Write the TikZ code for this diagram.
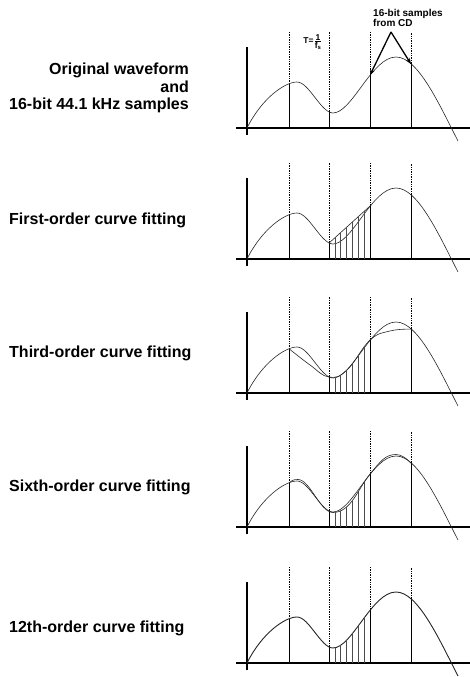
\documentclass[tikz,border=0pt]{standalone}
\usepackage{fontspec}
\setmainfont{Liberation Sans}
\usetikzlibrary{arrows.meta}

% the analogue waveform, in panel units (origin where the axes cross)
\newcommand\wavepath{(0,0) .. controls (15,30) and (38,46) .. (50,46)
  .. controls (62,46) and (74,15) .. (86,15)
  .. controls (105,15) and (125,71) .. (149,71)
  .. controls (171,71) and (192,24) .. (211,-13)}
% sixth-order fit, continuing from (42,44.3)
\newcommand\sixthtail{.. controls (45,46.5) and (46,47.5) .. (51,47.5)
  .. controls (63,47.5) and (73,14.5) .. (86,14.5)
  .. controls (104,14.5) and (111,38.5) .. (123,52.9)
  .. controls (133,65) and (138,72.5) .. (149,72.5)
  .. controls (155,72.5) and (160,68) .. (164,63.9)}
\newcommand\axes{\draw[axisline] (-11,0) -- (223,0); \draw[axisline] (0,-7) -- (0,81);}
\newcommand\samples{\foreach \u/\v in {42/44.3,82/15.9,123/52.9,164/63.9}{
  \draw[gridline] (\u,\v) -- (\u,96); \draw[sampleline] (\u,0) -- (\u,\v);}}
\newcommand\hatching{\foreach \k in {1,...,6} \draw[hatch] ({82+\k*41/7},0) -- ++(0,90);}

\begin{document}
\begin{tikzpicture}[x=1pt,y=1pt,
  axisline/.style={line width=1.7pt},
  wave/.style={line width=0.6pt,black!85},
  fitline/.style={line width=0.6pt,black!85},
  sampleline/.style={line width=1pt},
  gridline/.style={densely dotted,line width=0.7pt},
  hatch/.style={line width=0.45pt,black!70},
  caption/.style={font=\fontsize{16}{17.5}\selectfont\bfseries,inner sep=0pt},
  tag/.style={font=\fontsize{10}{10.5}\selectfont\bfseries,inner sep=0pt,align=left},
  pointer/.style={-{Stealth[length=6pt,width=4.5pt]},line width=1.3pt},
]
\useasboundingbox (0,0) rectangle (470,677);

% original waveform and CD samples
\begin{scope}[shift={(247,549)}]
  \axes \samples
  \draw[wave] \wavepath;
  \coordinate (cd3) at (123,52.9);
  \coordinate (cd4) at (164,63.9);
  \node[font=\fontsize{8.5}{9}\selectfont\bfseries,inner sep=0pt] (period) at (66,86)
    {T=$\frac{\hbox{1}}{\hbox{f\textsubscript{s}}}$};
\end{scope}
\node[caption,anchor=east,align=right] (orig) at (189,589)
  {Original waveform\\and\\16-bit 44.1 kHz samples};
\node[tag,anchor=west] (cdtag) at (373,659) {16-bit samples\\from CD};
\coordinate (apex) at (391,645);
\draw[pointer] (apex) -- (cd3);
\draw[pointer] (apex) -- (cd4);

% first order
\begin{scope}[shift={(247,418)}]
  \axes \samples
  \draw[wave] \wavepath;
  \coordinate (f2) at (82,15.9);
  \coordinate (f3) at (123,52.9);
  \draw[fitline] (f2) -- (f3);
  \begin{scope}
    \clip (f2) -- (f3) -- (123,0) -- (82,0) -- cycle;
    \hatching
  \end{scope}
\end{scope}
\node[caption,anchor=west] (first) at (9,457) {First-order curve fitting};

% third order
\begin{scope}[shift={(247,284)}]
  \axes \samples
  \draw[wave] \wavepath;
  \draw[fitline] plot[smooth,tension=0.7] coordinates
    {(42,44.3) (63,28) (82,15.9) (100,23) (123,52.9) (143,62) (164,63.9)};
  \begin{scope}
    \clip (82,0) rectangle (123,90);
    \clip (42,0) -- plot[smooth,tension=0.7] coordinates
      {(42,44.3) (63,28) (82,15.9) (100,23) (123,52.9) (143,62) (164,63.9)}
      -- (164,0) -- cycle;
    \hatching
  \end{scope}
\end{scope}
\node[caption,anchor=west] (third) at (9,324) {Third-order curve fitting};

% sixth order
\begin{scope}[shift={(247,150)}]
  \axes \samples
  \draw[wave] \wavepath;
  \draw[fitline] (42,44.3) \sixthtail;
  \begin{scope}
    \clip (82,0) rectangle (123,90);
    \clip (42,0) -- (42,44.3) \sixthtail -- (164,0) -- cycle;
    \hatching
  \end{scope}
\end{scope}
\node[caption,anchor=west] (sixth) at (9,190) {Sixth-order curve fitting};

% twelfth order
\begin{scope}[shift={(247,14)}]
  \axes \samples
  \draw[wave,line width=0.9pt] \wavepath;
  \begin{scope}
    \clip (82,0) rectangle (123,90);
    \clip \wavepath -- cycle;
    \hatching
  \end{scope}
\end{scope}
\node[caption,anchor=west] (twelfth) at (9,49) {12th-order curve fitting};
\end{tikzpicture}
\end{document}
